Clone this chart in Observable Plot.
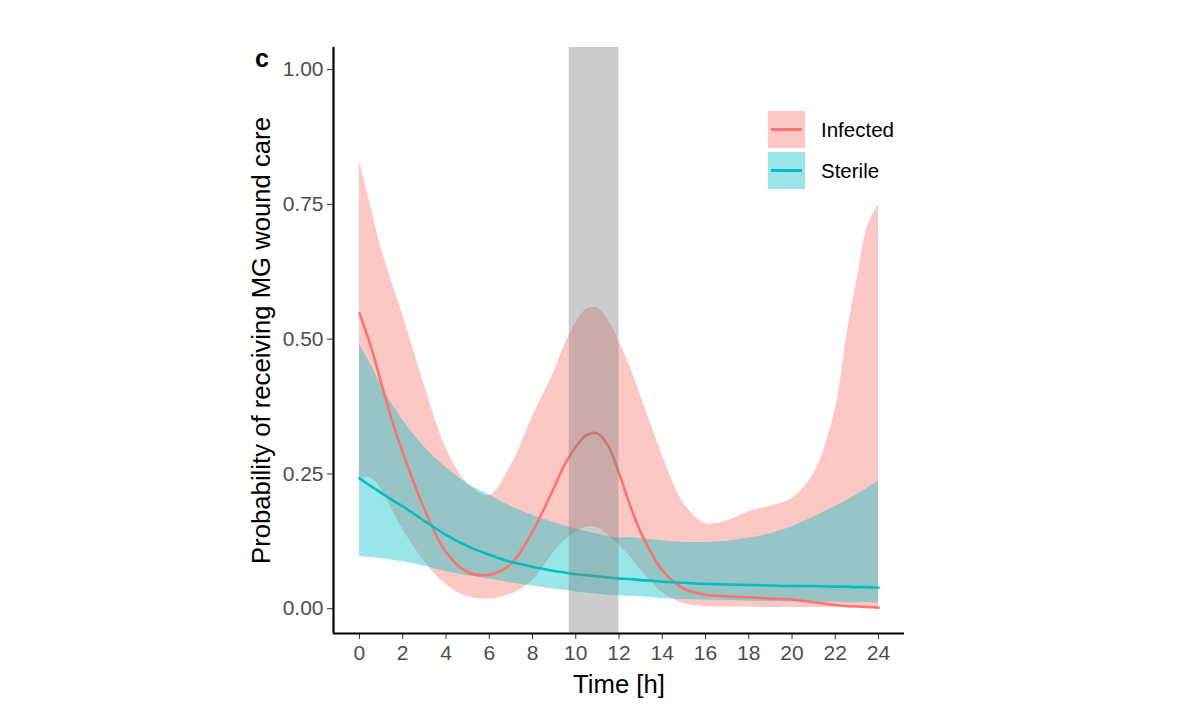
<!DOCTYPE html>
<html>
<head>
<meta charset="utf-8">
<script src="https://cdn.jsdelivr.net/npm/d3@7"></script>
<script src="https://cdn.jsdelivr.net/npm/@observablehq/plot@0.6"></script>
<style>
  html, body { margin: 0; padding: 0; background: #fff; }
  body { font-family: "Liberation Sans", Arial, Helvetica, sans-serif; }
  #wrap { position: relative; width: 1200px; height: 722px; }
  #panel { position: absolute; left: 255px; top: 46px; font-weight: bold; font-size: 25px; color: #000; line-height: 1; }
  .leg { position: absolute; left: 768px; display: flex; align-items: center; }
  .key { width: 37px; height: 37px; position: relative; }
  .key span { position: absolute; left: 3px; right: 3px; top: 17px; height: 2.5px; }
  .lab { margin-left: 16px; font-size: 20.5px; color: #000; }
  svg [aria-label="x-axis tick label"] text, svg [aria-label="y-axis tick label"] text { fill: #4d4d4d; }
</style>
</head>
<body>
<div id="wrap">
  <div id="chart"></div>
  <div id="panel">c</div>
  <div class="leg" style="top:111px"><div class="key" style="background:rgba(248,118,109,0.4)"><span style="background:#F8766D"></span></div><div class="lab">Infected</div></div>
  <div class="leg" style="top:152px"><div class="key" style="background:rgba(0,191,196,0.4)"><span style="background:#00BFC4"></span></div><div class="lab">Sterile</div></div>
</div>
<script>
const time = [0,0.5,1,1.5,2,3,4,5,6,7,8,9,9.5,10,10.5,11,11.5,12,12.5,13,13.5,14,15,16,17,18,19,20,21,22,22.5,23,23.5,24];

const infectedFit = [0.548,0.49,0.42,0.35,0.29,0.185,0.105,0.068,0.063,0.083,0.143,0.225,0.268,0.300,0.322,0.325,0.302,0.252,0.193,0.142,0.103,0.071,0.037,0.026,0.023,0.021,0.019,0.017,0.012,0.007,0.005,0.004,0.003,0.002];
const infectedHigh = [0.831,0.75,0.67,0.605,0.545,0.415,0.298,0.232,0.21,0.265,0.355,0.44,0.49,0.53,0.555,0.558,0.535,0.496,0.45,0.395,0.34,0.285,0.195,0.158,0.163,0.18,0.19,0.205,0.25,0.37,0.50,0.61,0.71,0.75];
const infectedLow = [0.24,0.243,0.222,0.185,0.148,0.088,0.045,0.022,0.018,0.027,0.052,0.105,0.127,0.142,0.151,0.150,0.136,0.118,0.097,0.072,0.050,0.030,0.009,0.004,0.003,0.003,0.002,0.002,0.002,0.002,0.002,0.002,0.002,0.002];

const sterileFit = [0.242,0.228,0.215,0.202,0.19,0.163,0.137,0.116,0.100,0.087,0.078,0.070,0.067,0.064,0.062,0.060,0.058,0.056,0.055,0.053,0.052,0.050,0.048,0.046,0.045,0.044,0.043,0.042,0.042,0.041,0.041,0.040,0.040,0.039];
const sterileHigh = [0.49,0.455,0.415,0.38,0.35,0.30,0.262,0.232,0.211,0.19,0.173,0.160,0.154,0.148,0.143,0.138,0.134,0.131,0.132,0.130,0.128,0.126,0.123,0.123,0.125,0.131,0.139,0.152,0.17,0.19,0.20,0.212,0.224,0.237];
const sterileLow = [0.097,0.095,0.093,0.090,0.087,0.079,0.069,0.061,0.055,0.048,0.042,0.036,0.034,0.031,0.029,0.027,0.025,0.024,0.023,0.022,0.021,0.019,0.017,0.016,0.015,0.014,0.013,0.013,0.012,0.012,0.011,0.011,0.011,0.010];

const band = [{start: 9.7, end: 12}];
const xTicks = [0,2,4,6,8,10,12,14,16,18,20,22,24];
const yTicks = [0,0.25,0.5,0.75,1];
const xDomain = [-1.2, 25.2];
const yDomain = [-0.046, 1.041];

const infected = time.map((t, i) => ({t, fit: infectedFit[i], lo: infectedLow[i], hi: infectedHigh[i]}));
const sterile = time.map((t, i) => ({t, fit: sterileFit[i], lo: sterileLow[i], hi: sterileHigh[i]}));

const font = '"Liberation Sans", Arial, Helvetica, sans-serif';
const curve = "catmull-rom";

const chart = Plot.plot({
  width: 1200,
  height: 722,
  marginLeft: 333,
  marginRight: 296,
  marginTop: 47,
  marginBottom: 89,
  style: {fontFamily: font, background: "#fff"},
  x: {domain: xDomain},
  y: {domain: yDomain},
  marks: [
    Plot.areaY(infected, {x: "t", y1: "lo", y2: "hi", fill: "#F8766D", fillOpacity: 0.4, curve}),
    Plot.areaY(sterile, {x: "t", y1: "lo", y2: "hi", fill: "#00BFC4", fillOpacity: 0.4, curve}),
    Plot.lineY(infected, {x: "t", y: "fit", stroke: "#F8766D", strokeWidth: 2.6, curve}),
    Plot.lineY(sterile, {x: "t", y: "fit", stroke: "#00BFC4", strokeWidth: 2.6, curve}),
    Plot.rect(band, {x1: "start", x2: "end", fill: "#808080", fillOpacity: 0.4}),
    Plot.axisX({ticks: xTicks, tickSize: 6, tickPadding: 6, fontSize: 21, stroke: "#333", label: null, tickFormat: d => d}),
    Plot.axisY({ticks: yTicks, tickSize: 6, tickPadding: 4, fontSize: 21, stroke: "#333", label: null, tickFormat: d3.format(".2f")}),
    Plot.ruleX([xDomain[0]], {stroke: "#000", strokeWidth: 2.2}),
    Plot.ruleY([yDomain[0]], {stroke: "#000", strokeWidth: 2.2}),
    Plot.text(["Probability of receiving MG wound care"], {frameAnchor: "left", textAnchor: "middle", rotate: -90, dx: -72, fontSize: 25.7, fill: "#000", lineAnchor: "middle"}),
    Plot.text(["Time [h]"], {frameAnchor: "bottom", textAnchor: "middle", dy: 51, fontSize: 25.7, fill: "#000", lineAnchor: "middle"})
  ]
});
document.getElementById("chart").appendChild(chart);
</script>
</body>
</html>
